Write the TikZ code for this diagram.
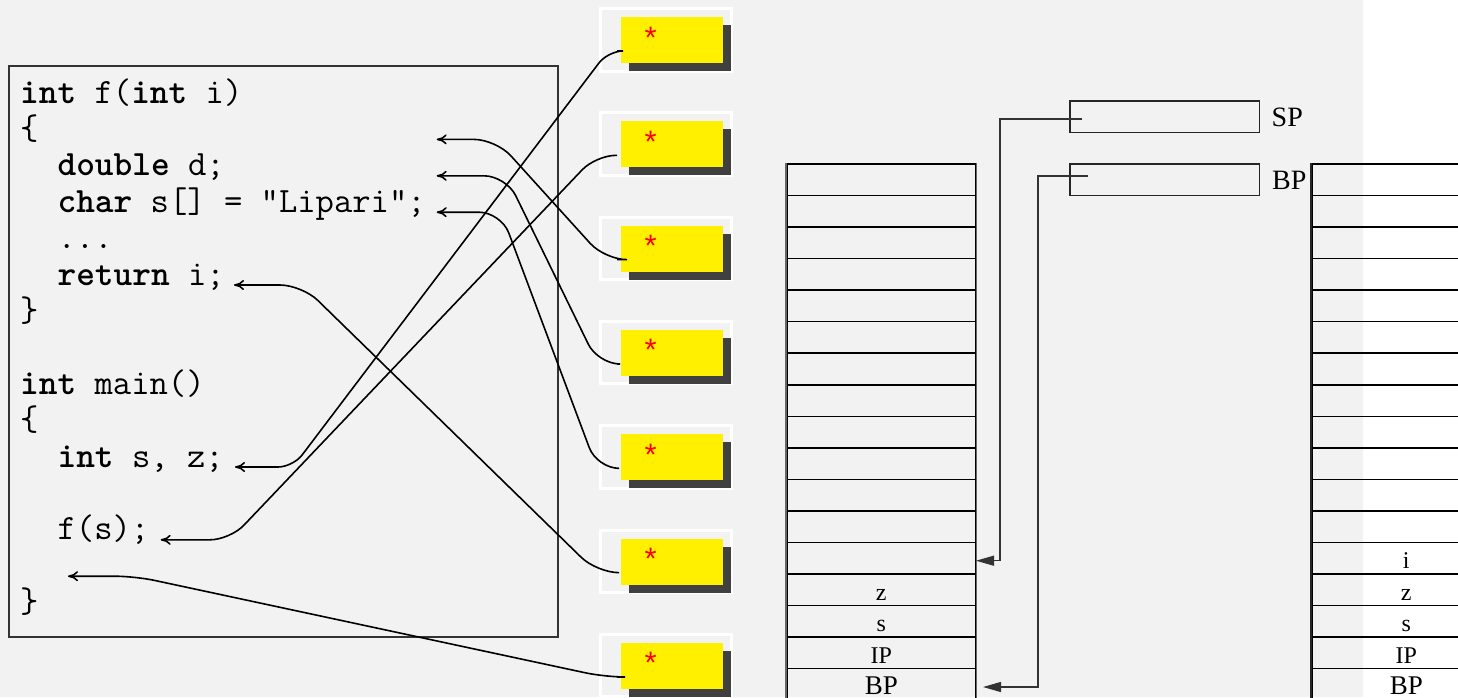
\documentclass[tikz,border=0pt]{standalone}
\usepackage{fontspec}
\newfontfamily\lserif{Liberation Serif}
\newfontfamily\lsans{Liberation Sans}
\usetikzlibrary{arrows.meta,calc}
\definecolor{bg}{HTML}{F2F2F2}
\definecolor{yel}{HTML}{FFF000}
\definecolor{shadowc}{HTML}{404040}
\definecolor{framec}{HTML}{333333}
\begin{document}
\begin{tikzpicture}[x=1pt,y=-1pt,
  codeline/.style={anchor=base west, inner sep=0pt, font=\ttfamily\fontsize{35.6}{36}\selectfont},
  conn/.style={line width=1.6pt, -{To[length=10pt,width=10pt]}},
  regarrow/.style={line width=1.3pt, draw=black!80, -{Triangle[length=18pt,width=10pt]}},
  stacklbl/.style={anchor=base, inner sep=0pt, font=\lserif\fontsize{24}{24}\selectfont},
  bplbl/.style={anchor=base, inner sep=0pt, font=\lserif\fontsize{27}{27}\selectfont},
  reglbl/.style={anchor=base west, inner sep=0pt, font=\lserif\fontsize{28}{28}\selectfont},
  rowbox/.style={draw=black, line width=1.5pt, minimum width=189pt, minimum height=31.53pt, inner sep=0pt, anchor=north west},
  regbox/.style={draw=black!85, line width=1.3pt, minimum width=189.7pt, minimum height=31.4pt, inner sep=0pt, anchor=north west},
  ybox/.style={fill=yel, minimum width=101.3pt, minimum height=46pt, inner sep=0pt, anchor=north west},
  star/.style={anchor=base, inner sep=0pt, text=red, font=\lsans\fontsize{31}{31}\selectfont},
]
\useasboundingbox (0,0) rectangle (1458,697);
\begin{scope}
\clip (0,0) rectangle (1458,697);
\fill[bg] (0,0) rectangle (1363,697);
\fill[white] (1363,0) rectangle (1458,697);

% code box
\node[draw=framec, line width=1.5pt, fill=bg, minimum width=549pt, minimum height=571pt, inner sep=0pt, anchor=north west] (codebox) at (8,65) {};
\node[codeline] (l1) at (20,103) {\textbf{int} f(\textbf{int} i)};
\node[codeline] (l2) at (20,139.4) {\{};
\node[codeline] (l3) at (57.4,175.8) {\textbf{double} d;};
\node[codeline] (l4) at (57.4,212.2) {\textbf{char} s[] = "Lipari";};
\node[codeline] (l5) at (57.4,248.6) {...};
\node[codeline] (l6) at (57.4,285) {\textbf{return} i;};
\node[codeline] (l7) at (20,321.4) {\}};
\node[codeline] (l9) at (20,394.2) {\textbf{int} main()};
\node[codeline] (l10) at (20,430.6) {\{};
\node[codeline] (l11) at (57.4,467) {\textbf{int} s, z;};
\node[codeline] (l13) at (57.4,539.8) {f(s);};
\node[codeline] (l15) at (20,612.6) {\}};

% left stack
\foreach \k in {1,...,17} {
  \node[rowbox] (L\k) at (786,{163.3+31.53*(\k-1)}) {};
}
\draw[black!60, line width=1.6pt] (L1.north west) -- (L17.south west);
\draw[black!60, line width=1.6pt] (L1.north east) -- (L17.south east);
\node[stacklbl] at ($(L14.south)+(0,-6)$) {z};
\node[stacklbl] at ($(L15.south)+(0,-6)$) {s};
\node[stacklbl] at ($(L16.south)+(0,-6)$) {IP};
\node[bplbl] at ($(L17.south)+(0,-6.5)$) {BP};

% right stack
\foreach \k in {1,...,17} {
  \node[rowbox] (R\k) at (1311,{163.3+31.53*(\k-1)}) {};
}
\draw[black!85, line width=1.6pt] (R1.north west) -- (R17.south west);
\node[stacklbl] at ($(R13.south)+(0,-6)$) {i};
\node[stacklbl] at ($(R14.south)+(0,-6)$) {z};
\node[stacklbl] at ($(R15.south)+(0,-6)$) {s};
\node[stacklbl] at ($(R16.south)+(0,-6)$) {IP};
\node[bplbl] at ($(R17.south)+(0,-6.5)$) {BP};

% registers
\node[regbox] (SPreg) at (1069.3,100.3) {};
\node[regbox] (BPreg) at (1069.3,163.3) {};
\node[reglbl] (SPl) at (1271.5,126.7) {SP};
\node[reglbl] (BPl) at (1272,189) {BP};
\coordinate (spsrc) at (1082,119);
\coordinate (sptip) at (976,560.7);
\coordinate (bpsrc) at (1088,176);
\coordinate (bptip) at (983,687);
\draw[regarrow] (spsrc) -| ($(sptip)+(24,0)$) -- (sptip);
\draw[regarrow] (bpsrc) -| ($(bptip)+(55,0)$) -- (bptip);

% yellow boxes
\foreach \k in {1,...,7} {
  \pgfmathsetmacro{\o}{104.33*(\k-1)}
  \draw[white, line width=3pt] (600.5,{8.5+\o}) rectangle (731,{71+\o});
  \fill[shadowc] (629,{25+\o}) rectangle (730.7,{71+\o});
  \node[ybox] (y\k) at (621,{16.7+\o}) {};
  \node[star] at (650.7,{48+\o}) {*};
  \coordinate (a\k) at (617,{51+\o});
}

% connectors
\coordinate (t1) at (235,467);
\coordinate (t2) at (160.7,539.8);
\coordinate (t3) at (436.7,139.4);
\coordinate (t4) at (436.7,175.8);
\coordinate (t5) at (436.7,212.2);
\coordinate (t6) at (234,285);
\coordinate (t7) at (68,576.2);
\draw[conn, rounded corners=15pt] (a1) -- (608,51) -- (293,467) -- (t1);
\draw[conn, rounded corners=20pt] (a2) -- (596,155.3) -- (230,539.8) -- (t2);
\draw[conn, rounded corners=22pt] (a3) -- (605,259.7) -- (496,139.4) -- (t3);
\draw[conn, rounded corners=22pt] (a4) -- (598,364) -- (506,175.8) -- (t4);
\draw[conn, rounded corners=22pt] (a5) -- (597,468.3) -- (501,212.2) -- (t5);
\draw[conn, rounded corners=22pt] (a6) -- (597,572.7) -- (302,285) -- (t6);
\draw[conn, rounded corners=20pt] (a7) -- (605,677) -- (135,576.2) -- (t7);
\end{scope}
\end{tikzpicture}
\end{document}
